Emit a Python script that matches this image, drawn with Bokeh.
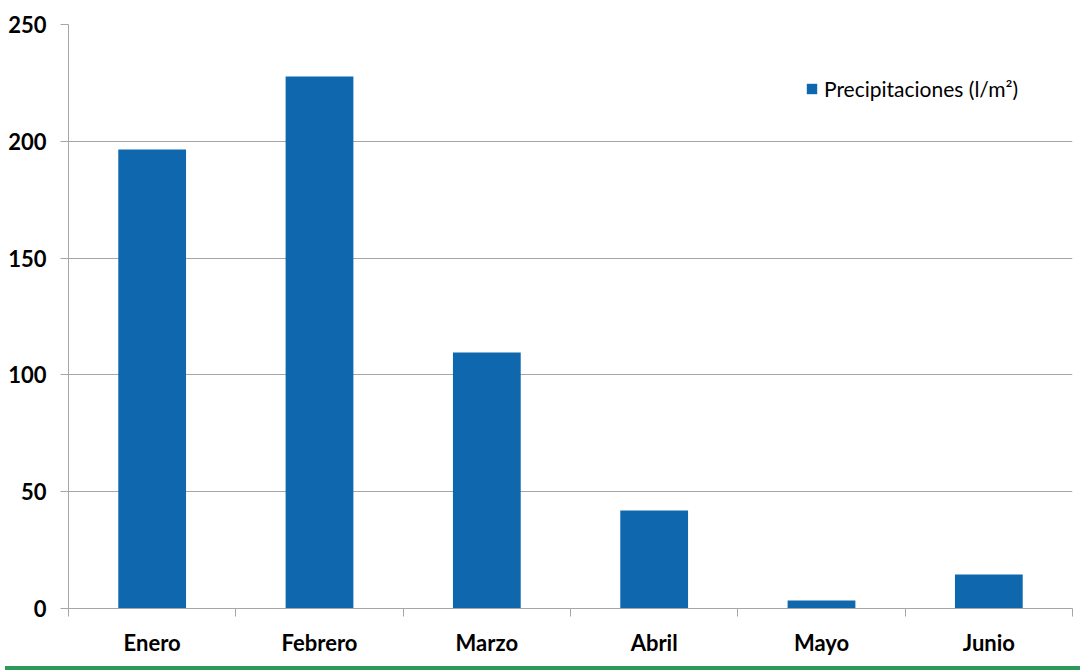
from bokeh.plotting import figure
from bokeh.models import (Range1d, FixedTicker, Legend, LegendItem, Div)
from bokeh.layouts import column
from bokeh.embed import file_html
from bokeh.resources import INLINE

months = ["Enero", "Febrero", "Marzo", "Abril", "Mayo", "Junio"]
rain = [196.5, 227.7, 109.6, 42.0, 3.4, 14.6]
y_ticks = [0, 50, 100, 150, 200, 250]
series_name = "Precipitaciones (l/m\u00b2)"

BAR = "#0F67AE"
GRID = "#A6A6A6"
FONT = "Lato"

xs = [i + 0.5 for i in range(len(months))]

p = figure(width=1080, height=661, output_backend="svg", toolbar_location=None,
           x_range=Range1d(0, len(months)), y_range=Range1d(0, 250),
           min_border_left=68, min_border_right=8, min_border_top=24, min_border_bottom=53)
p.outline_line_color = None
p.background_fill_color = "white"
p.border_fill_color = "white"

r = p.vbar(x=xs, top=rain, width=0.405, fill_color=BAR, line_color=None)

# y axis
p.yaxis.ticker = FixedTicker(ticks=y_ticks, minor_ticks=[])
p.yaxis.axis_line_color = GRID
p.yaxis.major_tick_line_color = GRID
p.yaxis.major_tick_in = 0
p.yaxis.major_tick_out = 8
p.yaxis.minor_tick_line_color = None
p.yaxis.major_label_text_font = FONT
p.yaxis.major_label_text_font_style = "bold"
p.yaxis.major_label_text_font_size = "22px"
p.yaxis.major_label_text_color = "black"
p.yaxis.major_label_standoff = 14

# x axis: labels at centres, tick marks at boundaries
p.xaxis.ticker = FixedTicker(ticks=xs, minor_ticks=list(range(len(months) + 1)))
p.xaxis.major_label_overrides = {x: m for x, m in zip(xs, months)}
p.xaxis.axis_line_color = GRID
p.xaxis.major_tick_line_color = None
p.xaxis.major_tick_in = 0
p.xaxis.major_tick_out = 0
p.xaxis.minor_tick_line_color = GRID
p.xaxis.minor_tick_in = 0
p.xaxis.minor_tick_out = 8
p.xaxis.major_label_text_font = FONT
p.xaxis.major_label_text_font_style = "bold"
p.xaxis.major_label_text_font_size = "22px"
p.xaxis.major_label_text_color = "black"
p.xaxis.major_label_standoff = 12

p.xgrid.grid_line_color = None
p.ygrid.grid_line_color = GRID
p.ygrid.grid_line_width = 1

legend = Legend(items=[LegendItem(label=series_name, renderers=[r])],
                location=(737, 507), orientation="vertical",
                border_line_color=None, background_fill_alpha=0,
                padding=0, margin=0, spacing=0,
                glyph_width=13, glyph_height=13, label_height=20,
                label_standoff=6, label_text_font=FONT,
                label_text_font_size="21px", label_text_color="black")
p.add_layout(legend)

strip = Div(width=1080, height=9, styles={"background-color": "#2E9A5A", "width": "1080px", "height": "9px"})

layout = column(p, strip, spacing=0)
open("out.html", "w").write(file_html(layout, INLINE))
